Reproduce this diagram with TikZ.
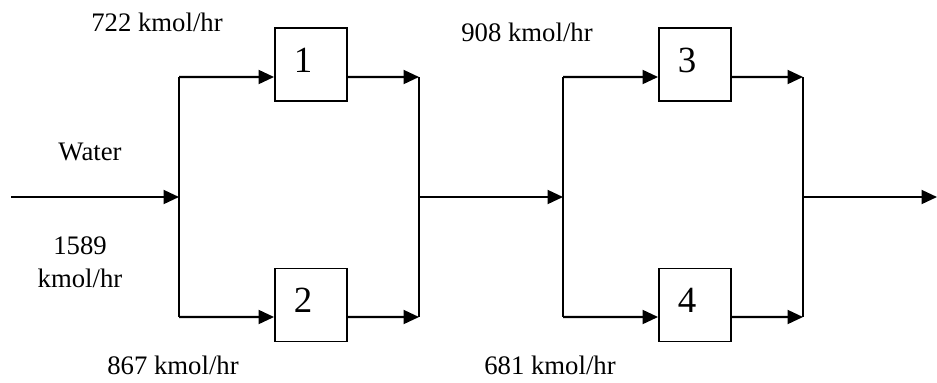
\documentclass[tikz,border=0pt]{standalone}
\usepackage{fontspec}
\setmainfont{Liberation Serif}
\usetikzlibrary{arrows.meta,positioning}
\tikzset{
  unit/.style={draw=black,line width=1.1pt,minimum width=1.44cm,minimum height=1.46cm,
    inner sep=0pt},
  num/.style={font=\fontsize{21}{25}\selectfont,inner sep=0pt,xshift=-0.16cm,yshift=0.09cm},
  flow/.style={-{Triangle[length=0.31cm,width=0.28cm]},line width=1.15pt},
  pipe/.style={line width=1.15pt},
  rate/.style={font=\fontsize{15.2}{19}\selectfont,align=center,inner sep=0pt}
}
\begin{document}
\begin{tikzpicture}
  \useasboundingbox (0,0) rectangle (18.74,7.64);

  \coordinate (feed) at (0.22,3.70);
  \coordinate (split1) at (3.58,3.70);
  \coordinate (merge1) at (8.38,3.70);
  \coordinate (split2) at (11.26,3.70);
  \coordinate (merge2) at (16.06,3.70);
  \coordinate (product) at (18.74,3.70);

  \node[unit,label={[num]center:1}] (unit1) at (6.22,6.35) {};
  \node[unit,label={[num]center:2}] (unit2) at (6.22,1.54) {};
  \node[unit,label={[num]center:3}] (unit3) at (13.90,6.35) {};
  \node[unit,label={[num]center:4}] (unit4) at (13.90,1.54) {};

  % first stage
  \draw[flow] (feed)--(split1);
  \draw[pipe] ([yshift=2.40cm]split1)--([yshift=-2.40cm]split1);
  \draw[flow] ([yshift=2.40cm]split1)--(unit1.west |- {(0,6.10)});
  \draw[flow] ([yshift=-2.40cm]split1)--(unit2.west |- {(0,1.30)});
  \draw[flow] (unit1.east |- {(0,6.10)})--([yshift=2.40cm]merge1);
  \draw[flow] (unit2.east |- {(0,1.30)})--([yshift=-2.40cm]merge1);
  \draw[pipe] ([yshift=2.40cm]merge1)--([yshift=-2.40cm]merge1);

  % second stage
  \draw[flow] (merge1)--(split2);
  \draw[pipe] ([yshift=2.40cm]split2)--([yshift=-2.40cm]split2);
  \draw[flow] ([yshift=2.40cm]split2)--(unit3.west |- {(0,6.10)});
  \draw[flow] ([yshift=-2.40cm]split2)--(unit4.west |- {(0,1.30)});
  \draw[flow] (unit3.east |- {(0,6.10)})--([yshift=2.40cm]merge2);
  \draw[flow] (unit4.east |- {(0,1.30)})--([yshift=-2.40cm]merge2);
  \draw[pipe] ([yshift=2.40cm]merge2)--([yshift=-2.40cm]merge2);
  \draw[flow] (merge2)--(product);

  \node[rate] (water) at (1.80,4.60) {Water};
  \node[rate] (total) at (1.60,2.40) {1589\\kmol/hr};
  \node[rate] (rate1) at (3.14,7.20) {722 kmol/hr};
  \node[rate] (rate2) at (3.46,0.34) {867 kmol/hr};
  \node[rate] (rate3) at (10.54,7.00) {908 kmol/hr};
  \node[rate] (rate4) at (11.00,0.34) {681 kmol/hr};
\end{tikzpicture}
\end{document}
